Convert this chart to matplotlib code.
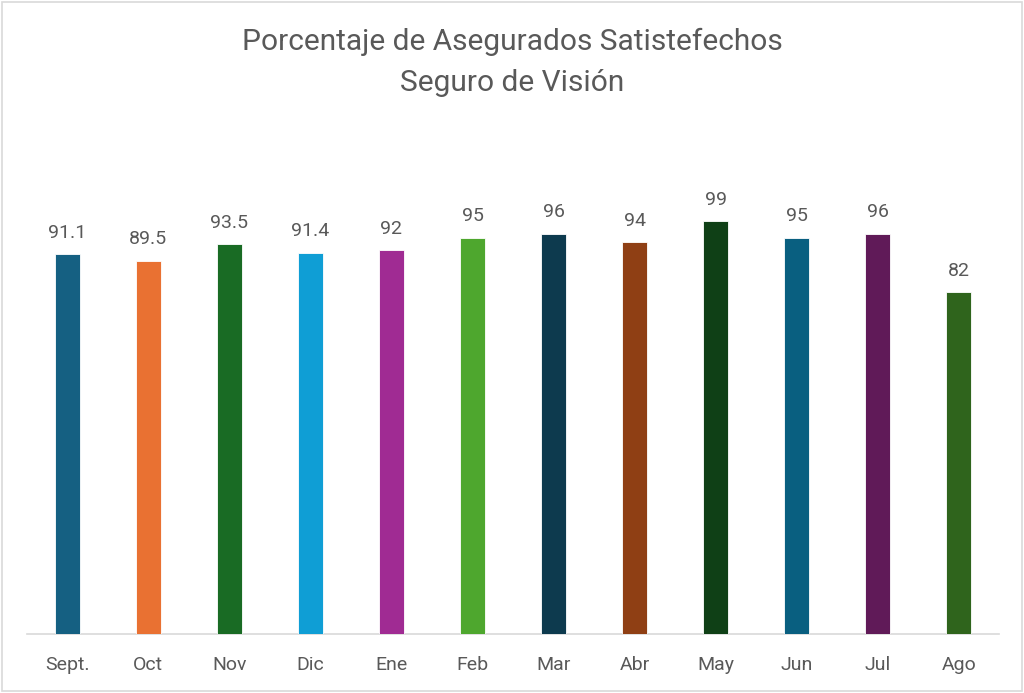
import matplotlib.pyplot as plt
from matplotlib.patches import Rectangle

# datos
meses = ['Sept.', 'Oct', 'Nov', 'Dic', 'Ene', 'Feb', 'Mar', 'Abr', 'May', 'Jun', 'Jul', 'Ago']
porcentaje = [91.1, 89.5, 93.5, 91.4, 92, 95, 96, 94, 99, 95, 96, 82]
etiquetas = ['91.1', '89.5', '93.5', '91.4', '92', '95', '96', '94', '99', '95', '96', '82']
colores = ['#156082', '#E97132', '#196B24', '#0F9ED5', '#A02B93', '#4EA72E',
           '#0D3A4E', '#8F3F14', '#0F4016', '#095F80', '#601A58', '#2F641C']

TEXTO = '#595959'
plt.rcParams['font.family'] = ['Roboto', 'DejaVu Sans']

fig = plt.figure(figsize=(10.24, 6.93), dpi=100)
ax = fig.add_axes([0.026, 0.085, 0.95, 0.722])

x = range(len(meses))
ax.bar(x, porcentaje, width=0.31, color=colores, edgecolor='white', linewidth=0.6, zorder=3)

for i, (v, t) in enumerate(zip(porcentaje, etiquetas)):
    ax.text(i, v + 3.0, t, ha='center', va='bottom', fontsize=14, color=TEXTO)

ax.set_xlim(-0.5, len(meses) - 0.5)
ax.set_ylim(0, 120)
ax.set_xticks(list(x))
ax.set_xticklabels(meses, fontsize=14, color=TEXTO)
ax.set_yticks([])
ax.tick_params(axis='x', length=0, pad=16)
for lado in ['top', 'right', 'left']:
    ax.spines[lado].set_visible(False)
ax.spines['bottom'].set_color('#D9D9D9')
ax.spines['bottom'].set_linewidth(1.2)

fig.text(0.5, 0.939, 'Porcentaje de Asegurados Satistefechos', ha='center', va='center',
         fontsize=21.5, color=TEXTO)
fig.text(0.5, 0.88, 'Seguro de Visión', ha='center', va='center', fontsize=21.5, color=TEXTO)

# marco del gráfico
fig.patches.append(Rectangle((0.002, 0.003), 0.996, 0.994, transform=fig.transFigure,
                             fill=False, edgecolor='#D9D9D9', linewidth=1.2))

fig.savefig('out.png', dpi=100)
